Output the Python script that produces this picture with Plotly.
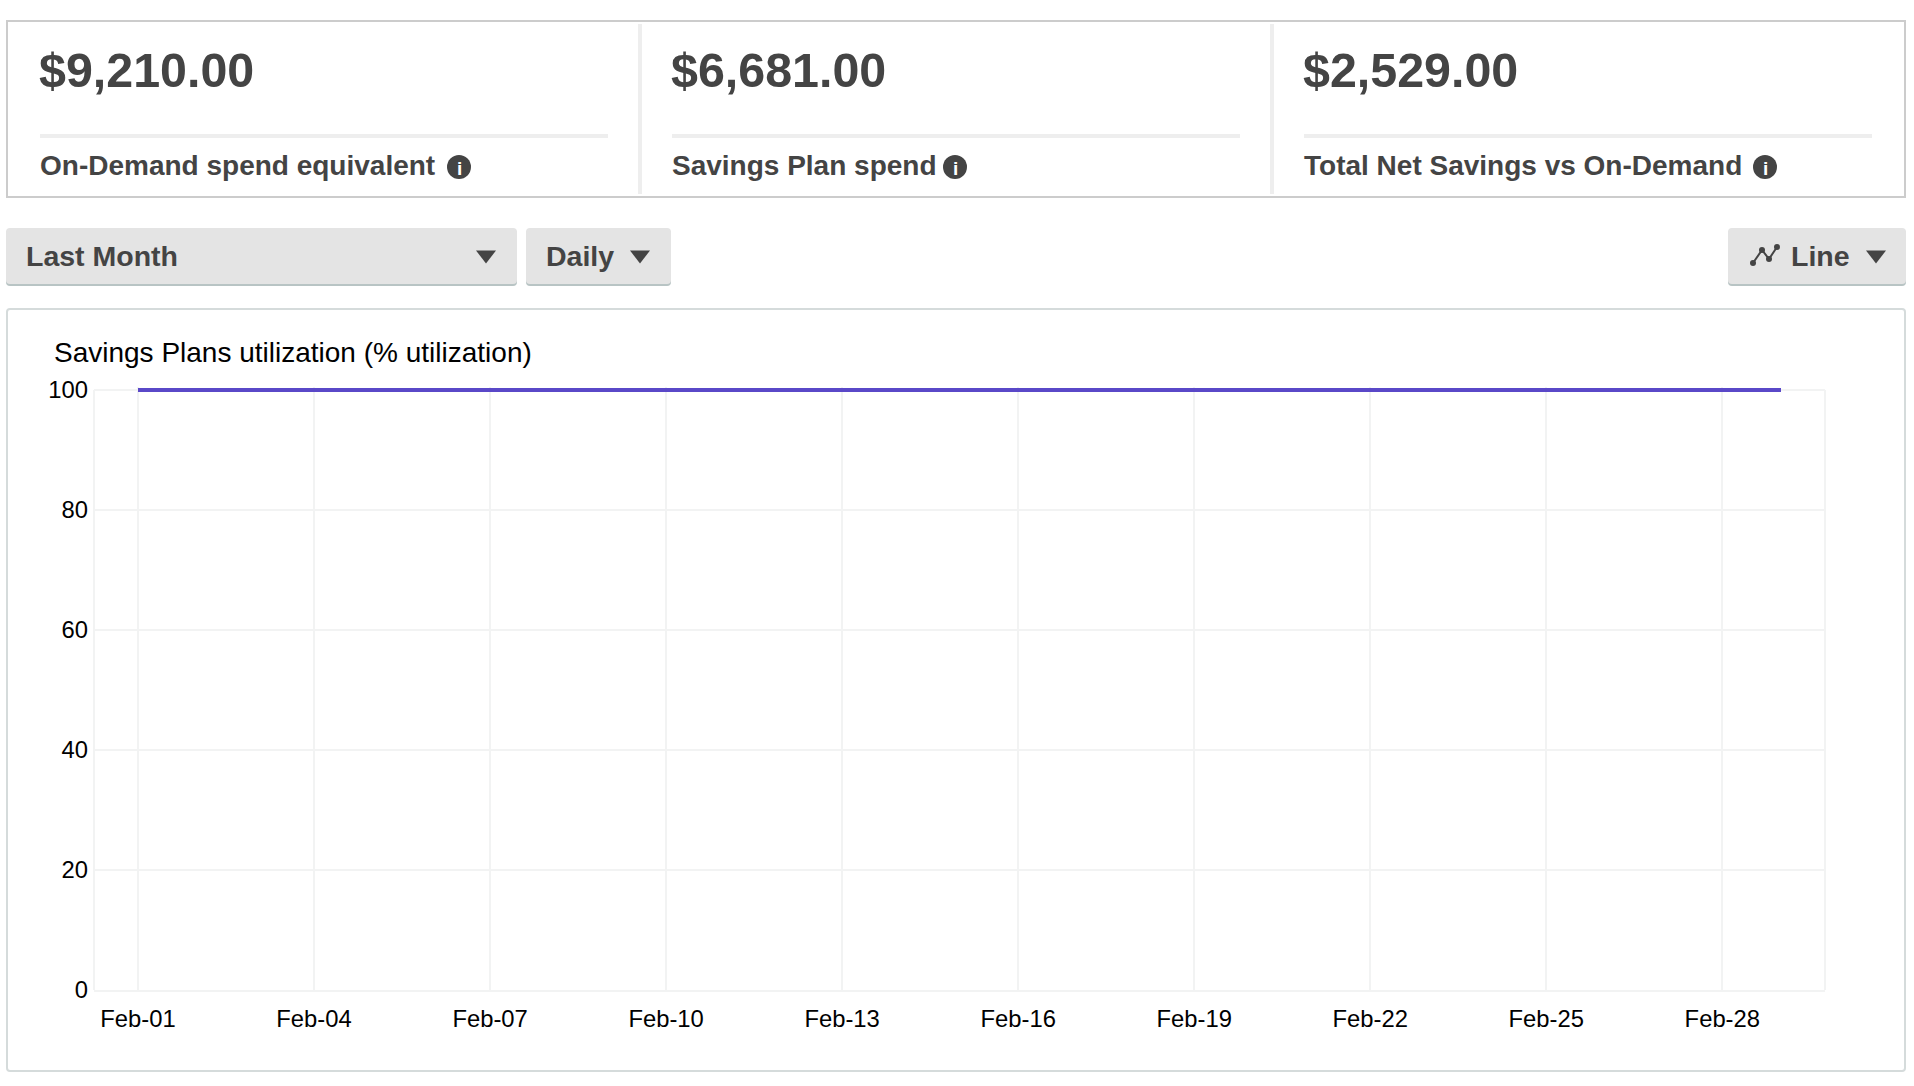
import plotly.graph_objects as go

W, H = 1914, 1086

# ---- data ----
days = ["Feb-01","Feb-02","Feb-03","Feb-04","Feb-05","Feb-06","Feb-07","Feb-08","Feb-09","Feb-10",
        "Feb-11","Feb-12","Feb-13","Feb-14","Feb-15","Feb-16","Feb-17","Feb-18","Feb-19","Feb-20",
        "Feb-21","Feb-22","Feb-23","Feb-24","Feb-25","Feb-26","Feb-27","Feb-28","Feb-29"]
utilization = [100,100,100,100,100,100,100,100,100,100,100,100,100,100,100,
               100,100,100,100,100,100,100,100,100,100,100,100,100,100]
x_ticks = ["Feb-01","Feb-04","Feb-07","Feb-10","Feb-13","Feb-16","Feb-19","Feb-22","Feb-25","Feb-28"]
y_ticks = [0, 20, 40, 60, 80, 100]
card_values = ["$9,210.00", "$6,681.00", "$2,529.00"]
card_labels = ["On-Demand spend equivalent", "Savings Plan spend", "Total Net Savings vs On-Demand"]
chart_title = "Savings Plans utilization (% utilization)"
period_label = "Last Month"
grain_label = "Daily"
type_label = "Line"

# ---- helpers (page pixels -> paper) ----
FONT = "Liberation Sans"
DARK = "#444444"
def px(x): return x / W
def py(y): return 1 - y / H

shapes, annos = [], []

def rrect(x0, y0, x1, y1, r, fill, line=None, lw=0):
    path = (f"M {px(x0+r)} {py(y0)} L {px(x1-r)} {py(y0)} Q {px(x1)} {py(y0)} {px(x1)} {py(y0+r)} "
            f"L {px(x1)} {py(y1-r)} Q {px(x1)} {py(y1)} {px(x1-r)} {py(y1)} "
            f"L {px(x0+r)} {py(y1)} Q {px(x0)} {py(y1)} {px(x0)} {py(y1-r)} "
            f"L {px(x0)} {py(y0+r)} Q {px(x0)} {py(y0)} {px(x0+r)} {py(y0)} Z")
    shapes.append(dict(type="path", xref="paper", yref="paper", path=path, fillcolor=fill,
                       line=dict(color=line or fill, width=lw), layer="below"))

def text(x, y, s, size, color=DARK, bold=False, anchor="left"):
    annos.append(dict(xref="paper", yref="paper", x=px(x), y=py(y), text=f"<b>{s}</b>" if bold else s,
                      showarrow=False, xanchor=anchor, yanchor="middle", borderpad=0,
                      xshift=0, font=dict(family=FONT, size=size, color=color)))

def tri(cx, cy, w=20, h=13):
    path = f"M {px(cx-w/2)} {py(cy-h/2)} L {px(cx+w/2)} {py(cy-h/2)} L {px(cx)} {py(cy+h/2)} Z"
    shapes.append(dict(type="path", xref="paper", yref="paper", path=path, fillcolor=DARK,
                       line=dict(width=0)))

def info(cx, cy, r=12):
    shapes.append(dict(type="circle", xref="paper", yref="paper", x0=px(cx-r), x1=px(cx+r),
                       y0=py(cy+r), y1=py(cy-r), fillcolor=DARK, line=dict(width=0)))
    text(cx, cy + 1, "i", 19, color="#ffffff", bold=True, anchor="center")

# KPI card frame
rrect(7, 21, 1905, 197, 0, "#ffffff", "#cccccc", 2)
for sx in (640, 1272):
    shapes.append(dict(type="line", xref="paper", yref="paper", x0=px(sx), x1=px(sx), y0=py(24), y1=py(194),
                       line=dict(color="#eeeeee", width=4)))
card_x = [40, 672, 1304]
icon_x = [459, 955, 1765]
for cx, val, lab, ix in zip(card_x, card_values, card_labels, icon_x):
    text(cx - 2, 70, val, 48.4, bold=True)
    shapes.append(dict(type="line", xref="paper", yref="paper", x0=px(cx), x1=px(cx + 568), y0=py(136), y1=py(136),
                       line=dict(color="#eeeeee", width=4)))
    text(cx - 1, 166, lab, 28, bold=True)
    info(ix, 167)

# Buttons
for x0, x1 in ((6, 517), (526, 671), (1728, 1906)):
    rrect(x0, 230, x1, 286, 4, "#b8c4c4")
    rrect(x0, 228, x1, 284, 4, "#e4e4e4")
text(25, 256, period_label, 28.5, bold=True)
tri(486, 257)
text(545, 256, grain_label, 28.5, bold=True)
tri(640, 257)
text(1790, 256, type_label, 28.5, bold=True)
tri(1876, 257)
# chart-type icon
ix = [1753, 1762, 1769, 1777]
iy = [263, 250, 259, 247]
p = "M " + " L ".join(f"{px(a)} {py(b)}" for a, b in zip(ix, iy))
shapes.append(dict(type="path", xref="paper", yref="paper", path=p, line=dict(color=DARK, width=2)))
for a, b in zip(ix, iy):
    shapes.append(dict(type="circle", xref="paper", yref="paper", x0=px(a-3), x1=px(a+3), y0=py(b+3), y1=py(b-3),
                       fillcolor=DARK, line=dict(width=0)))

# Chart frame
rrect(7, 309, 1905, 1071, 3, "#ffffff", "#d5dbdb", 2)
text(53, 352, chart_title, 28, color="#000000")

# Plot-area side borders stop at the 100 gridline
for xp in (94, 1825):
    shapes.append(dict(type="line", xref="paper", yref="y", x0=px(xp), x1=px(xp), y0=0, y1=100,
                       line=dict(color="#f2f3f3", width=2), layer="below"))

fig = go.Figure(go.Scatter(x=days, y=utilization, mode="lines",
                           line=dict(color="#5a48c8", width=4), hoverinfo="x+y"))
fig.update_layout(
    width=W, height=H, margin=dict(l=0, r=0, t=0, b=0, autoexpand=False),
    paper_bgcolor="#ffffff", plot_bgcolor="rgba(0,0,0,0)", showlegend=False,
    font=dict(family=FONT, color="#000000"), shapes=shapes, annotations=annos,
    xaxis=dict(domain=[px(94), px(1825)], type="category", categoryorder="array", categoryarray=days,
               range=[-0.75, 28.75], tickmode="array", tickvals=x_ticks, ticktext=x_ticks,
               tickfont=dict(size=23.8, color="#000000"), ticks="", ticklabelstandoff=6,
               showgrid=True, gridcolor="#f2f3f3", gridwidth=2, zeroline=False,
               showline=True, linecolor="#f2f3f3", linewidth=2),
    yaxis=dict(domain=[py(990), py(387)], range=[0, 100.5], tickmode="array", tickvals=y_ticks,
               tickfont=dict(size=23.8, color="#000000"), ticks="", ticklabelstandoff=5,
               showgrid=True, gridcolor="#f2f3f3", gridwidth=2, zeroline=False, showline=False),
)

fig.write_html("out.html", config={"displayModeBar": False},
               post_script="document.body.style.margin='0';document.body.style.overflow='hidden';")
